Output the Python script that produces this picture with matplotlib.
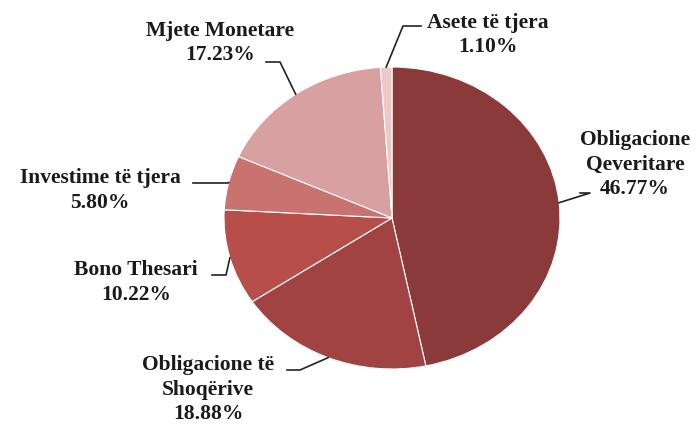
import matplotlib.pyplot as plt
import numpy as np

# Data
labels = ["Obligacione\nQeveritare", "Obligacione të\nShoqërive", "Bono Thesari",
          "Investime të tjera", "Mjete Monetare", "Asete të tjera"]
shares = [46.77, 18.88, 10.22, 5.80, 17.23, 1.10]
colors = ["#8B3A3A", "#A24343", "#B84E4A", "#C97371", "#D8A0A0", "#EBC9C9"]

# label placement in figure pixels (text centre x, top y, elbow x, elbow y, end x)
W, H = 697, 428
label_pos = [
    (635, 130, 590, 193, 580),
    (208, 355, 300, 370, 287),
    (136, 260, 226, 275, 212),
    (100, 168, 228, 183, 193),
    (220, 21, 280, 62, 266),
    (488, 13, 403, 26, 421),
]

plt.rcParams['font.family'] = ['Liberation Serif', 'DejaVu Serif']

fig = plt.figure(figsize=(W / 100, H / 100), dpi=100)
# pie is stretched horizontally in the original -> free aspect axes
cx, cy, rx, ry = 392, 218, 168, 151
ax = fig.add_axes([(cx - rx) / W, (H - cy - ry) / H, 2 * rx / W, 2 * ry / H])

wedges, _ = ax.pie(shares, colors=colors, startangle=90, counterclock=False,
                   wedgeprops=dict(edgecolor="white", linewidth=0.8))
ax.set_aspect('auto')
ax.set_xlim(-1, 1)
ax.set_ylim(-1, 1)
ax.axis('off')

def px2data(px, py):
    return (px - cx) / rx, (cy - py) / ry

for w, lab, val, (tx, ty, ex, ey, hx) in zip(wedges, labels, shares, label_pos):
    mid = np.deg2rad((w.theta1 + w.theta2) / 2)
    x0, y0 = np.cos(mid), np.sin(mid)
    x1, y1 = px2data(ex, ey)
    x2, y2 = px2data(hx, ey)
    ax.plot([x0, x1, x2], [y0, y1, y2], color="#222222", lw=1.2, clip_on=False)
    txt = lab + "\n" + f"{val:.2f}%"
    fig.text(tx / W, 1 - ty / H, txt, ha="center", va="top", fontsize=15.5,
             fontweight="bold", linespacing=1.3, color="#1a1a1a")

fig.savefig("out.png", dpi=100)
